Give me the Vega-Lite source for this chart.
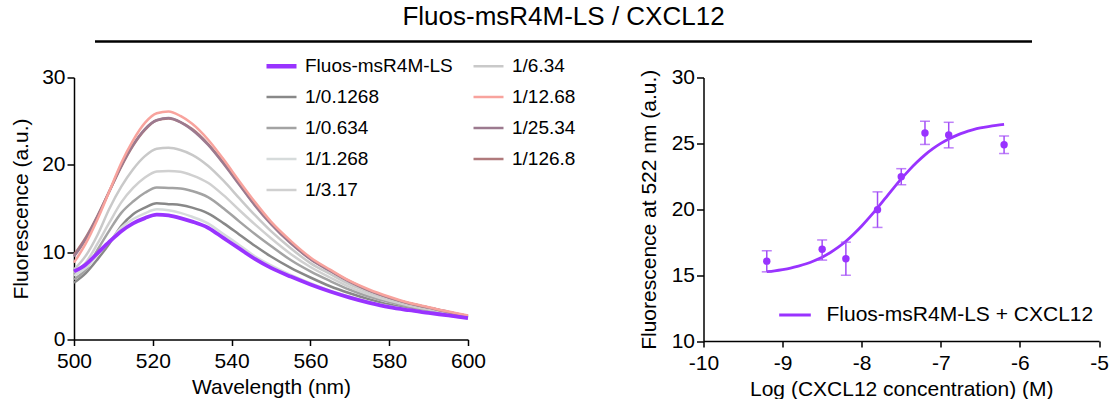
{
"$schema": "https://vega.github.io/schema/vega-lite/v6.json",
"background": "white",
"padding": {"left": 10, "top": 4, "right": 0, "bottom": 0},
"config": {
  "font": "Liberation Sans",
  "view": {"stroke": null},
  "axis": {"domainColor": "black", "domainWidth": 1.5, "tickColor": "black", "tickWidth": 1.5, "tickSize": 7, "labelFontSize": 21, "labelColor": "black", "titleFontSize": 21, "titleFontWeight": "normal", "titleColor": "black", "grid": false, "labelPadding": 3, "labelFlush": false, "labelOverlap": false},
  "legend": {"labelColor": "black", "padding": 0, "labelLimit": 500, "symbolType": "stroke"}
},
"bounds": "flush",
"spacing": 35.5,
"vconcat": [
  {
    "width": 979, "height": 1,
    "title": {"text": "Fluos-msR4M-LS / CXCL12", "fontSize": 26, "fontWeight": "normal", "color": "black", "anchor": "middle", "offset": 10, "frame": "group"},
    "data": {"values": [{"start": 0, "end": 1}]},
    "mark": {"type": "rule", "strokeWidth": 2.5, "color": "black"},
    "encoding": {
      "x": {"field": "start", "type": "quantitative", "axis": null, "scale": {"domain": [0, 1], "nice": false, "zero": false, "padding": 21}},
      "x2": {"field": "end"}
    }
  },
  {
    "bounds": "flush",
    "spacing": 235.5,
    "resolve": {"scale": {"color": "independent"}, "legend": {"color": "independent"}},
    "hconcat": [
      {
        "width": 394, "height": 262,
        "data": {"values": [
{"s":"1/0.1268","w":500,"f":6.5},{"s":"1/0.1268","w":503,"f":7.6},{"s":"1/0.1268","w":506,"f":9.2},{"s":"1/0.1268","w":509,"f":11.0},{"s":"1/0.1268","w":512,"f":13.0},{"s":"1/0.1268","w":515,"f":14.35},{"s":"1/0.1268","w":518,"f":15.1},{"s":"1/0.1268","w":521,"f":15.6},{"s":"1/0.1268","w":524,"f":15.5},{"s":"1/0.1268","w":527,"f":15.4},{"s":"1/0.1268","w":530,"f":15.1},{"s":"1/0.1268","w":534,"f":14.45},{"s":"1/0.1268","w":538,"f":13.3},{"s":"1/0.1268","w":542,"f":12.0},{"s":"1/0.1268","w":546,"f":10.7},{"s":"1/0.1268","w":550,"f":9.5},{"s":"1/0.1268","w":555,"f":8.2},{"s":"1/0.1268","w":560,"f":7.1},{"s":"1/0.1268","w":565,"f":6.1},{"s":"1/0.1268","w":570,"f":5.3},{"s":"1/0.1268","w":575,"f":4.6},{"s":"1/0.1268","w":580,"f":4.0},{"s":"1/0.1268","w":585,"f":3.55},{"s":"1/0.1268","w":590,"f":3.2},{"s":"1/0.1268","w":595,"f":2.85},{"s":"1/0.1268","w":600,"f":2.55},
{"s":"1/0.634","w":500,"f":6.9},{"s":"1/0.634","w":503,"f":8.0},{"s":"1/0.634","w":506,"f":10.3},{"s":"1/0.634","w":509,"f":12.5},{"s":"1/0.634","w":512,"f":14.5},{"s":"1/0.634","w":515,"f":15.8},{"s":"1/0.634","w":518,"f":16.8},{"s":"1/0.634","w":521,"f":17.4},{"s":"1/0.634","w":524,"f":17.35},{"s":"1/0.634","w":527,"f":17.3},{"s":"1/0.634","w":530,"f":17.0},{"s":"1/0.634","w":534,"f":16.3},{"s":"1/0.634","w":538,"f":15.0},{"s":"1/0.634","w":542,"f":13.5},{"s":"1/0.634","w":546,"f":12.05},{"s":"1/0.634","w":550,"f":10.7},{"s":"1/0.634","w":555,"f":9.1},{"s":"1/0.634","w":560,"f":7.8},{"s":"1/0.634","w":565,"f":6.7},{"s":"1/0.634","w":570,"f":5.7},{"s":"1/0.634","w":575,"f":4.9},{"s":"1/0.634","w":580,"f":4.3},{"s":"1/0.634","w":585,"f":3.75},{"s":"1/0.634","w":590,"f":3.35},{"s":"1/0.634","w":595,"f":2.95},{"s":"1/0.634","w":600,"f":2.6},
{"s":"1/1.268","w":500,"f":7.3},{"s":"1/1.268","w":503,"f":8.2},{"s":"1/1.268","w":506,"f":9.7},{"s":"1/1.268","w":509,"f":11.2},{"s":"1/1.268","w":512,"f":12.8},{"s":"1/1.268","w":515,"f":13.8},{"s":"1/1.268","w":518,"f":14.45},{"s":"1/1.268","w":521,"f":14.9},{"s":"1/1.268","w":524,"f":14.8},{"s":"1/1.268","w":527,"f":14.5},{"s":"1/1.268","w":530,"f":14.05},{"s":"1/1.268","w":534,"f":13.3},{"s":"1/1.268","w":538,"f":12.05},{"s":"1/1.268","w":542,"f":10.8},{"s":"1/1.268","w":546,"f":9.5},{"s":"1/1.268","w":550,"f":8.5},{"s":"1/1.268","w":555,"f":7.4},{"s":"1/1.268","w":560,"f":6.45},{"s":"1/1.268","w":565,"f":5.6},{"s":"1/1.268","w":570,"f":4.9},{"s":"1/1.268","w":575,"f":4.3},{"s":"1/1.268","w":580,"f":3.8},{"s":"1/1.268","w":585,"f":3.4},{"s":"1/1.268","w":590,"f":3.1},{"s":"1/1.268","w":595,"f":2.75},{"s":"1/1.268","w":600,"f":2.45},
{"s":"1/3.17","w":500,"f":7.6},{"s":"1/3.17","w":503,"f":8.8},{"s":"1/3.17","w":506,"f":11.0},{"s":"1/3.17","w":509,"f":13.4},{"s":"1/3.17","w":512,"f":15.7},{"s":"1/3.17","w":515,"f":17.35},{"s":"1/3.17","w":518,"f":18.55},{"s":"1/3.17","w":521,"f":19.25},{"s":"1/3.17","w":524,"f":19.3},{"s":"1/3.17","w":527,"f":19.2},{"s":"1/3.17","w":530,"f":18.8},{"s":"1/3.17","w":534,"f":17.95},{"s":"1/3.17","w":538,"f":16.5},{"s":"1/3.17","w":542,"f":14.8},{"s":"1/3.17","w":546,"f":13.15},{"s":"1/3.17","w":550,"f":11.6},{"s":"1/3.17","w":555,"f":9.8},{"s":"1/3.17","w":560,"f":8.3},{"s":"1/3.17","w":565,"f":7.1},{"s":"1/3.17","w":570,"f":6.0},{"s":"1/3.17","w":575,"f":5.15},{"s":"1/3.17","w":580,"f":4.45},{"s":"1/3.17","w":585,"f":3.9},{"s":"1/3.17","w":590,"f":3.45},{"s":"1/3.17","w":595,"f":3.05},{"s":"1/3.17","w":600,"f":2.65},
{"s":"1/6.34","w":500,"f":8.0},{"s":"1/6.34","w":503,"f":9.6},{"s":"1/6.34","w":506,"f":12.0},{"s":"1/6.34","w":509,"f":15.0},{"s":"1/6.34","w":512,"f":17.5},{"s":"1/6.34","w":515,"f":19.5},{"s":"1/6.34","w":518,"f":21.0},{"s":"1/6.34","w":521,"f":21.85},{"s":"1/6.34","w":524,"f":21.95},{"s":"1/6.34","w":527,"f":21.7},{"s":"1/6.34","w":530,"f":21.15},{"s":"1/6.34","w":534,"f":19.9},{"s":"1/6.34","w":538,"f":18.15},{"s":"1/6.34","w":542,"f":16.15},{"s":"1/6.34","w":546,"f":14.2},{"s":"1/6.34","w":550,"f":12.4},{"s":"1/6.34","w":555,"f":10.45},{"s":"1/6.34","w":560,"f":8.75},{"s":"1/6.34","w":565,"f":7.5},{"s":"1/6.34","w":570,"f":6.3},{"s":"1/6.34","w":575,"f":5.4},{"s":"1/6.34","w":580,"f":4.65},{"s":"1/6.34","w":585,"f":4.0},{"s":"1/6.34","w":590,"f":3.55},{"s":"1/6.34","w":595,"f":3.1},{"s":"1/6.34","w":600,"f":2.7},
{"s":"1/126.8","w":500,"f":9.7},{"s":"1/126.8","w":503,"f":11.7},{"s":"1/126.8","w":506,"f":14.2},{"s":"1/126.8","w":509,"f":17.0},{"s":"1/126.8","w":512,"f":19.8},{"s":"1/126.8","w":515,"f":22.2},{"s":"1/126.8","w":518,"f":24.0},{"s":"1/126.8","w":521,"f":25.1},{"s":"1/126.8","w":524,"f":25.3},{"s":"1/126.8","w":527,"f":24.9},{"s":"1/126.8","w":530,"f":24.1},{"s":"1/126.8","w":534,"f":22.4},{"s":"1/126.8","w":538,"f":20.2},{"s":"1/126.8","w":542,"f":17.8},{"s":"1/126.8","w":546,"f":15.4},{"s":"1/126.8","w":550,"f":13.3},{"s":"1/126.8","w":555,"f":11.1},{"s":"1/126.8","w":560,"f":9.25},{"s":"1/126.8","w":565,"f":7.9},{"s":"1/126.8","w":570,"f":6.65},{"s":"1/126.8","w":575,"f":5.6},{"s":"1/126.8","w":580,"f":4.8},{"s":"1/126.8","w":585,"f":4.15},{"s":"1/126.8","w":590,"f":3.65},{"s":"1/126.8","w":595,"f":3.15},{"s":"1/126.8","w":600,"f":2.7},
{"s":"1/25.34","w":500,"f":9.5},{"s":"1/25.34","w":503,"f":11.5},{"s":"1/25.34","w":506,"f":14.1},{"s":"1/25.34","w":509,"f":17.0},{"s":"1/25.34","w":512,"f":19.9},{"s":"1/25.34","w":515,"f":22.3},{"s":"1/25.34","w":518,"f":24.1},{"s":"1/25.34","w":521,"f":25.1},{"s":"1/25.34","w":524,"f":25.35},{"s":"1/25.34","w":527,"f":24.9},{"s":"1/25.34","w":530,"f":24.0},{"s":"1/25.34","w":534,"f":22.3},{"s":"1/25.34","w":538,"f":20.1},{"s":"1/25.34","w":542,"f":17.7},{"s":"1/25.34","w":546,"f":15.3},{"s":"1/25.34","w":550,"f":13.2},{"s":"1/25.34","w":555,"f":11.0},{"s":"1/25.34","w":560,"f":9.2},{"s":"1/25.34","w":565,"f":7.85},{"s":"1/25.34","w":570,"f":6.6},{"s":"1/25.34","w":575,"f":5.6},{"s":"1/25.34","w":580,"f":4.8},{"s":"1/25.34","w":585,"f":4.15},{"s":"1/25.34","w":590,"f":3.65},{"s":"1/25.34","w":595,"f":3.15},{"s":"1/25.34","w":600,"f":2.7},
{"s":"1/12.68","w":500,"f":8.8},{"s":"1/12.68","w":503,"f":11.0},{"s":"1/12.68","w":506,"f":13.8},{"s":"1/12.68","w":509,"f":17.0},{"s":"1/12.68","w":512,"f":20.2},{"s":"1/12.68","w":515,"f":22.8},{"s":"1/12.68","w":518,"f":24.8},{"s":"1/12.68","w":521,"f":25.9},{"s":"1/12.68","w":524,"f":26.1},{"s":"1/12.68","w":527,"f":25.6},{"s":"1/12.68","w":530,"f":24.7},{"s":"1/12.68","w":534,"f":22.9},{"s":"1/12.68","w":538,"f":20.6},{"s":"1/12.68","w":542,"f":18.1},{"s":"1/12.68","w":546,"f":15.7},{"s":"1/12.68","w":550,"f":13.5},{"s":"1/12.68","w":555,"f":11.3},{"s":"1/12.68","w":560,"f":9.4},{"s":"1/12.68","w":565,"f":8.0},{"s":"1/12.68","w":570,"f":6.7},{"s":"1/12.68","w":575,"f":5.7},{"s":"1/12.68","w":580,"f":4.9},{"s":"1/12.68","w":585,"f":4.2},{"s":"1/12.68","w":590,"f":3.7},{"s":"1/12.68","w":595,"f":3.2},{"s":"1/12.68","w":600,"f":2.75},
{"s":"Fluos-msR4M-LS","w":500,"f":7.8},{"s":"Fluos-msR4M-LS","w":503,"f":8.6},{"s":"Fluos-msR4M-LS","w":506,"f":9.9},{"s":"Fluos-msR4M-LS","w":509,"f":11.2},{"s":"Fluos-msR4M-LS","w":512,"f":12.4},{"s":"Fluos-msR4M-LS","w":515,"f":13.3},{"s":"Fluos-msR4M-LS","w":518,"f":13.9},{"s":"Fluos-msR4M-LS","w":521,"f":14.3},{"s":"Fluos-msR4M-LS","w":524,"f":14.2},{"s":"Fluos-msR4M-LS","w":527,"f":13.9},{"s":"Fluos-msR4M-LS","w":530,"f":13.5},{"s":"Fluos-msR4M-LS","w":534,"f":12.8},{"s":"Fluos-msR4M-LS","w":538,"f":11.6},{"s":"Fluos-msR4M-LS","w":542,"f":10.4},{"s":"Fluos-msR4M-LS","w":546,"f":9.2},{"s":"Fluos-msR4M-LS","w":550,"f":8.2},{"s":"Fluos-msR4M-LS","w":555,"f":7.2},{"s":"Fluos-msR4M-LS","w":560,"f":6.3},{"s":"Fluos-msR4M-LS","w":565,"f":5.5},{"s":"Fluos-msR4M-LS","w":570,"f":4.8},{"s":"Fluos-msR4M-LS","w":575,"f":4.2},{"s":"Fluos-msR4M-LS","w":580,"f":3.7},{"s":"Fluos-msR4M-LS","w":585,"f":3.35},{"s":"Fluos-msR4M-LS","w":590,"f":3.05},{"s":"Fluos-msR4M-LS","w":595,"f":2.75},{"s":"Fluos-msR4M-LS","w":600,"f":2.45}
        ]},
        "mark": {"type": "line", "interpolate": "monotone"},
        "encoding": {
          "x": {"field": "w", "type": "quantitative", "scale": {"domain": [500, 600], "nice": false}, "axis": {"values": [500, 520, 540, 560, 580, 600], "title": "Wavelength (nm)", "tickSize": 6, "labelPadding": 5, "titlePadding": 5}},
          "y": {"field": "f", "type": "quantitative", "scale": {"domain": [0, 30], "nice": false}, "axis": {"values": [0, 10, 20, 30], "title": "Fluorescence (a.u.)", "labelPadding": 2, "titlePadding": 10}},
          "color": {"field": "s", "type": "nominal",
            "scale": {"domain": ["Fluos-msR4M-LS", "1/0.1268", "1/0.634", "1/1.268", "1/3.17", "1/6.34", "1/12.68", "1/25.34", "1/126.8"],
                      "range": ["#9933ff", "#888888", "#a3a3a3", "#d6dbdb", "#d0d0d0", "#c9c9c9", "#f8a39d", "#9c7a8f", "#b07a7c"]},
            "legend": {"orient": "none", "legendX": 198, "legendY": -21, "direction": "vertical", "columns": 2, "title": null, "labelFontSize": 19, "symbolSize": 900, "symbolStrokeWidth": 2.5, "labelOffset": 14, "columnPadding": 15, "rowPadding": 11,
              "encode": {"symbols": {"update": {"strokeWidth": {"signal": "datum.value === 'Fluos-msR4M-LS' ? 4.5 : 2.5"}}}}}},
          "strokeWidth": {"condition": {"test": "datum.s === 'Fluos-msR4M-LS'", "value": 3.8}, "value": 2.5}
        }
      },
      {
        "width": 395.5, "height": 263.5,
        "layer": [
          {
            "data": {"values": [
{"x":-9.2,"y":15.26},{"x":-9.1,"y":15.33},{"x":-9.0,"y":15.42},{"x":-8.9,"y":15.53},{"x":-8.8,"y":15.68},{"x":-8.7,"y":15.86},{"x":-8.6,"y":16.09},{"x":-8.5,"y":16.36},{"x":-8.4,"y":16.70},{"x":-8.3,"y":17.10},{"x":-8.2,"y":17.57},{"x":-8.1,"y":18.12},{"x":-8.0,"y":18.73},{"x":-7.9,"y":19.40},{"x":-7.8,"y":20.11},{"x":-7.7,"y":20.85},{"x":-7.6,"y":21.59},{"x":-7.5,"y":22.30},{"x":-7.4,"y":22.97},{"x":-7.3,"y":23.58},{"x":-7.2,"y":24.13},{"x":-7.1,"y":24.60},{"x":-7.0,"y":25.00},{"x":-6.9,"y":25.34},{"x":-6.8,"y":25.61},{"x":-6.7,"y":25.84},{"x":-6.6,"y":26.02},{"x":-6.5,"y":26.17},{"x":-6.4,"y":26.28},{"x":-6.3,"y":26.37},{"x":-6.2,"y":26.44}
            ]},
            "transform": [{"calculate": "'Fluos-msR4M-LS + CXCL12'", "as": "s"}],
            "mark": {"type": "line", "strokeWidth": 2.8, "interpolate": "monotone"},
            "encoding": {
              "x": {"field": "x", "type": "quantitative", "title": "Log (CXCL12 concentration) (M)", "scale": {"domain": [-10, -5], "nice": false}, "axis": {"values": [-10, -9, -8, -7, -6, -5], "tickSize": 6, "labelPadding": 5, "titlePadding": 5, "labelExpr": "datum.value + ''"}},
              "y": {"field": "y", "type": "quantitative", "title": "Fluorescence at 522 nm (a.u.)", "scale": {"domain": [10, 30], "nice": false}, "axis": {"values": [10, 15, 20, 25, 30], "labelPadding": 2, "titlePadding": 12}},
              "color": {"field": "s", "type": "nominal", "scale": {"domain": ["Fluos-msR4M-LS + CXCL12"], "range": ["#9933ff"]},
                "legend": {"orient": "none", "legendX": 74, "legendY": 220, "title": null, "labelFontSize": 21, "symbolSize": 1000, "symbolStrokeWidth": 3, "labelOffset": 14}}
            }
          },
          {
            "data": {"values": [
{"x":-9.2,"lo":15.25,"hi":16.85},{"x":-8.5,"lo":16.14,"hi":17.67},{"x":-8.2,"lo":14.99,"hi":17.5},{"x":-7.8,"lo":18.62,"hi":21.32},{"x":-7.5,"lo":21.86,"hi":23.08},{"x":-7.2,"lo":24.92,"hi":26.68},{"x":-6.9,"lo":24.66,"hi":26.6},{"x":-6.2,"lo":24.23,"hi":25.56}
            ]},
            "mark": {"type": "errorbar", "ticks": true, "thickness": 1.5, "size": 10, "color": "#a24cf6"},
            "encoding": {
              "x": {"field": "x", "type": "quantitative", "title": "Log (CXCL12 concentration) (M)"},
              "y": {"field": "lo", "type": "quantitative", "title": "Fluorescence at 522 nm (a.u.)"},
              "y2": {"field": "hi"}
            }
          },
          {
            "data": {"values": [
{"x":-9.2,"y":16.06},{"x":-8.5,"y":16.96},{"x":-8.2,"y":16.24},{"x":-7.8,"y":19.97},{"x":-7.5,"y":22.47},{"x":-7.2,"y":25.79},{"x":-6.9,"y":25.64},{"x":-6.2,"y":24.9}
            ]},
            "mark": {"type": "point", "filled": true, "size": 55, "opacity": 1, "color": "#9933ff"},
            "encoding": {
              "x": {"field": "x", "type": "quantitative", "title": "Log (CXCL12 concentration) (M)"},
              "y": {"field": "y", "type": "quantitative", "title": "Fluorescence at 522 nm (a.u.)"}
            }
          }
        ]
      }
    ]
  }
]
}
